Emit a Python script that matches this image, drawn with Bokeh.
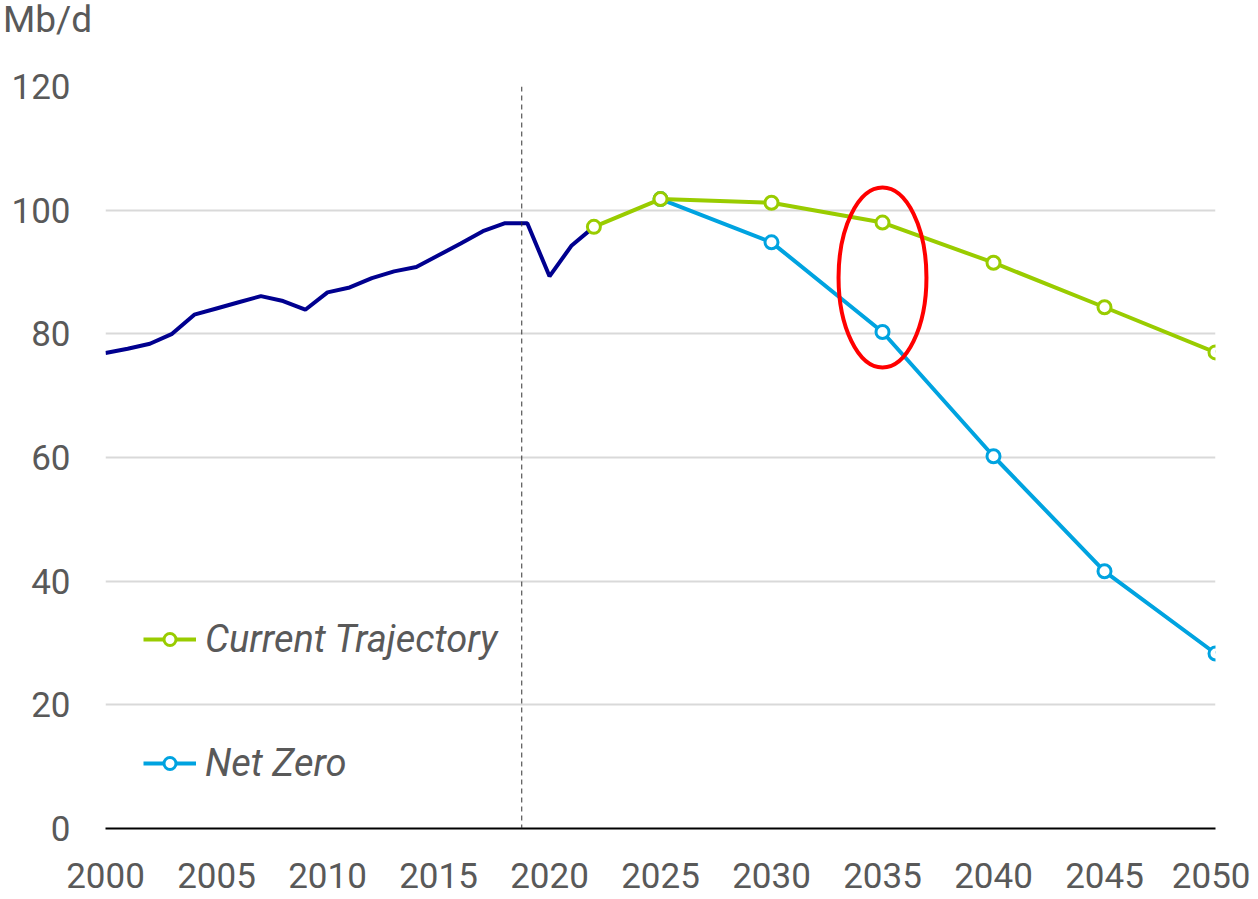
from bokeh.plotting import figure
from bokeh.models import Span, Legend, LegendItem, FixedTicker, Range1d, Div
from bokeh.layouts import column
from bokeh.embed import file_html
from bokeh.resources import INLINE

hist_years = list(range(2000, 2023))
hist_values = [76.9, 77.6, 78.4, 80.0, 83.1, 84.1, 85.1, 86.1, 85.3, 83.9,
               86.7, 87.5, 89.0, 90.1, 90.8, 92.7, 94.6, 96.6, 97.9, 97.9,
               89.3, 94.3, 97.3]
ct_years = [2022, 2025, 2030, 2035, 2040, 2045, 2050]
ct_values = [97.3, 101.8, 101.2, 98.0, 91.5, 84.3, 77.0]
nz_years = [2025, 2030, 2035, 2040, 2045, 2050]
nz_values = [101.8, 94.8, 80.3, 60.2, 41.6, 28.3]
x_ticks = [2000, 2005, 2010, 2015, 2020, 2025, 2030, 2035, 2040, 2045, 2050]
y_ticks = [0, 20, 40, 60, 80, 100, 120]
unit_label = "Mb/d"
ct_name = "Current Trajectory"
nz_name = "Net Zero"
divider_year = 2018.75
highlight = dict(x=2035, y=89.1, w=3.96, h=29.1)

FONT = "Roboto"
GREY = "#595959"
HIST_C = "#00008F"
CT_C = "#99CC00"
NZ_C = "#00A3E0"

DIV_H = 40
unit_div = Div(text=unit_label, width=200, height=DIV_H, margin=(0, 0, 0, 0),
               styles={"font-family": FONT, "font-size": "37px", "color": GREY,
                       "line-height": f"{DIV_H}px", "padding-left": "3px",
                       "white-space": "nowrap"})

p = figure(width=1250, height=897 - DIV_H, x_range=Range1d(2000, 2050), y_range=Range1d(0, 120),
           output_backend="svg", toolbar_location=None,
           min_border_left=105, min_border_right=35, min_border_top=86 - DIV_H,
           min_border_bottom=69)
p.outline_line_color = None
p.background_fill_color = "white"

p.xgrid.grid_line_color = None
p.ygrid.grid_line_color = "#D9D9D9"
p.ygrid.grid_line_width = 2

p.xaxis.ticker = FixedTicker(ticks=x_ticks)
p.yaxis.ticker = FixedTicker(ticks=y_ticks)
for ax in (p.xaxis, p.yaxis):
    ax.major_tick_line_color = None
    ax.minor_tick_line_color = None
    ax.major_label_text_font = FONT
    ax.major_label_text_font_size = "35px"
    ax.major_label_text_color = GREY
p.xaxis.axis_line_color = "black"
p.xaxis.axis_line_width = 2
p.xaxis.major_label_standoff = 28
p.yaxis.axis_line_color = None
p.yaxis.major_label_standoff = 29

p.add_layout(Span(location=divider_year, dimension="height", line_color="#333333",
                  line_width=1, line_dash="5 4"))

p.line(hist_years, hist_values, line_color=HIST_C, line_width=4)
nz_line = p.line(nz_years, nz_values, line_color=NZ_C, line_width=4)
nz_pts = p.scatter(nz_years, nz_values, size=13, fill_color="white", line_color=NZ_C, line_width=3)
ct_line = p.line(ct_years, ct_values, line_color=CT_C, line_width=4)
ct_pts = p.scatter(ct_years, ct_values, size=13, fill_color="white", line_color=CT_C, line_width=3)

p.ellipse(x=highlight["x"], y=highlight["y"], width=highlight["w"], height=highlight["h"],
          fill_color=None, line_color="#FF0000", line_width=4)

legend = Legend(items=[LegendItem(label=ct_name, renderers=[ct_line, ct_pts]),
                       LegendItem(label=nz_name, renderers=[nz_line, nz_pts])],
                location=(38, 43), orientation="vertical",
                border_line_color=None, background_fill_alpha=0,
                padding=0, margin=0, spacing=80, glyph_width=53, glyph_height=30,
                label_height=30, label_standoff=9,
                label_text_font=FONT, label_text_font_style="italic",
                label_text_font_size="38px", label_text_color=GREY)
p.add_layout(legend)

layout = column(unit_div, p, spacing=0)
open("out.html", "w").write(file_html(layout, INLINE))
